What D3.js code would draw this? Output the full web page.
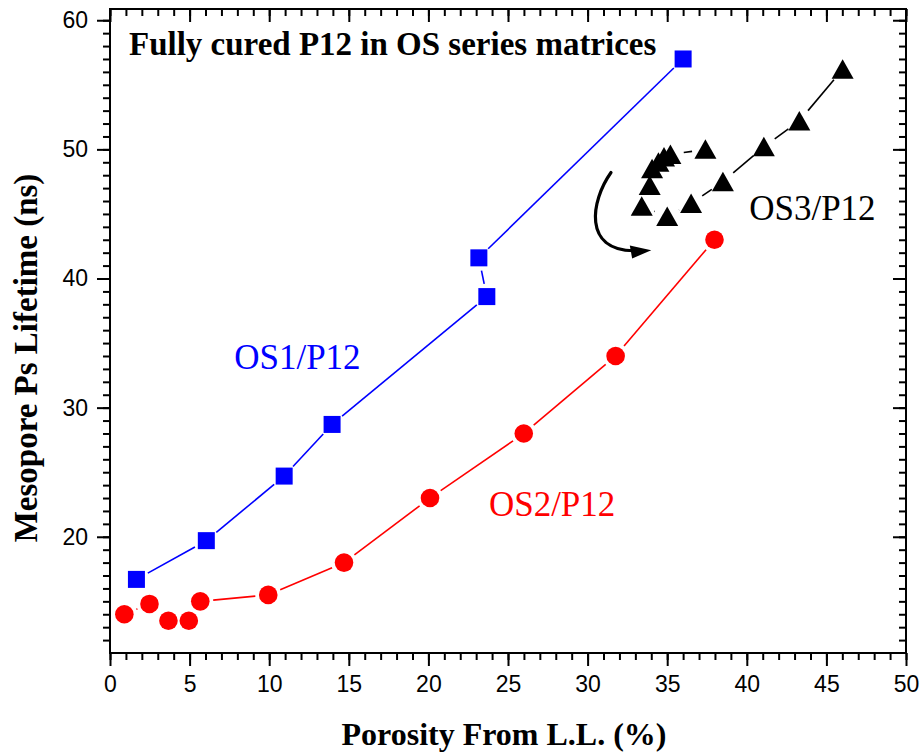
<!DOCTYPE html>
<html>
<head>
<meta charset="utf-8">
<script src="https://cdn.jsdelivr.net/npm/d3@7"></script>
<style>
  html, body { margin: 0; padding: 0; background: #fff; }
  svg { display: block; }
</style>
</head>
<body>
<svg id="chart" width="922" height="753"></svg>
<script>
// Porosity (%) and mesopore Ps lifetime (ns) for each matrix series
const os1Porosity = [1.66, 6.05, 10.94, 13.95, 23.67, 23.17, 36.0];
const os1Lifetime = [16.7, 19.7, 24.7, 28.7, 38.6, 41.6, 57.0];

const os2Porosity = [0.9, 2.48, 3.67, 4.95, 5.67, 9.94, 14.7, 20.1, 25.99, 31.76, 37.97];
const os2Lifetime = [14.0, 14.8, 13.5, 13.5, 15.0, 15.5, 18.0, 23.0, 28.0, 34.0, 43.0];

const os3Porosity = [46.02, 43.3, 41.07, 38.5, 36.5, 35.0, 33.4, 33.9, 34.05, 34.45, 34.8, 35.2, 37.4];
const os3Lifetime = [56.2, 52.2, 50.2, 47.5, 45.8, 44.8, 45.6, 47.2, 48.5, 49.0, 49.4, 49.6, 50.0];

// Axis ticks
const xMajorTicks = [0, 5, 10, 15, 20, 25, 30, 35, 40, 45, 50];
const yMajorTicks = [20, 30, 40, 50, 60];
const xMinorTicks = d3.range(0, 51, 1);
const yMinorTicks = d3.range(12, 61, 1);

// Curved arrow showing the direction of the OS3 loop (data units)
const arrowCurve = [[31.47, 48.21], [30.2, 46.0], [29.7, 42.2], [32.9, 42.15]];
const arrowHead = [[34.0, 42.19], [32.65, 42.55], [32.8, 41.55]];

// Text
const titleText = "Fully cured P12 in OS series matrices";
const xTitle = "Porosity From L.L. (%)";
const yTitle = "Mesopore Ps Lifetime (ns)";
const seriesLabels = [
  { text: "OS1/P12", x: 7.8, y: 33.0, color: "#0000ff" },
  { text: "OS2/P12", x: 23.8, y: 21.6, color: "#ff0000" },
  { text: "OS3/P12", x: 40.15, y: 44.55, color: "#000000" }
];

const serif = "'Liberation Serif', 'Times New Roman', serif";
const sans = "'Liberation Sans', Arial, sans-serif";

const plotLeft = 110, plotRight = 906, plotTop = 9, plotBottom = 653;

const x = d3.scaleLinear().domain([0, 50]).range([plotLeft, plotRight]);
const y = d3.scaleLinear().domain([11, 60.87]).range([plotBottom, plotTop]);

const svg = d3.select("#chart");

// ---- axes ----
function styleAxis(g) {
  g.select(".domain").remove();
  g.selectAll(".tick line").attr("stroke", "#000").attr("stroke-width", 2);
  g.selectAll(".tick text").attr("font-family", sans).attr("font-size", 23).attr("fill", "#000");
}

// bottom: ticks outward
svg.append("g").attr("transform", `translate(0,${plotBottom})`)
  .call(d3.axisBottom(x).tickValues(xMinorTicks).tickSize(7).tickFormat(""))
  .call(styleAxis);
svg.append("g").attr("transform", `translate(0,${plotBottom})`)
  .call(d3.axisBottom(x).tickValues(xMajorTicks).tickSize(13).tickPadding(10).tickFormat(d3.format("d")))
  .call(styleAxis);

// top: ticks inward
svg.append("g").attr("transform", `translate(0,${plotTop})`)
  .call(d3.axisTop(x).tickValues(xMinorTicks).tickSize(-7).tickFormat(""))
  .call(styleAxis);
svg.append("g").attr("transform", `translate(0,${plotTop})`)
  .call(d3.axisTop(x).tickValues(xMajorTicks).tickSize(-13).tickFormat(""))
  .call(styleAxis);

// left: ticks outward
svg.append("g").attr("transform", `translate(${plotLeft},0)`)
  .call(d3.axisLeft(y).tickValues(yMinorTicks).tickSize(7).tickFormat(""))
  .call(styleAxis);
svg.append("g").attr("transform", `translate(${plotLeft},0)`)
  .call(d3.axisLeft(y).tickValues(yMajorTicks).tickSize(13).tickPadding(9).tickFormat(d3.format("d")))
  .call(styleAxis);

// right: ticks inward
svg.append("g").attr("transform", `translate(${plotRight},0)`)
  .call(d3.axisRight(y).tickValues(yMinorTicks).tickSize(-7).tickFormat(""))
  .call(styleAxis);
svg.append("g").attr("transform", `translate(${plotRight},0)`)
  .call(d3.axisRight(y).tickValues(yMajorTicks).tickSize(-13).tickFormat(""))
  .call(styleAxis);

// frame
svg.append("rect")
  .attr("x", plotLeft).attr("y", plotTop)
  .attr("width", plotRight - plotLeft).attr("height", plotBottom - plotTop)
  .attr("fill", "none").attr("stroke", "#000").attr("stroke-width", 2);

// ---- series ----
// connecting lines stop short of each marker
function gappedSegments(xs, ys, gap, color) {
  const g = svg.append("g");
  for (let i = 0; i < xs.length - 1; i++) {
    const x1 = x(xs[i]), y1 = y(ys[i]), x2 = x(xs[i + 1]), y2 = y(ys[i + 1]);
    const dx = x2 - x1, dy = y2 - y1, d = Math.hypot(dx, dy);
    if (d <= 2 * gap) continue;
    const ux = dx / d, uy = dy / d;
    g.append("line")
      .attr("x1", x1 + ux * gap).attr("y1", y1 + uy * gap)
      .attr("x2", x2 - ux * gap).attr("y2", y2 - uy * gap)
      .attr("stroke", color).attr("stroke-width", 1.6);
  }
}

const os1 = os1Porosity.map((p, i) => [p, os1Lifetime[i]]);
const os2 = os2Porosity.map((p, i) => [p, os2Lifetime[i]]);
const os3 = os3Porosity.map((p, i) => [p, os3Lifetime[i]]);

gappedSegments(os1Porosity, os1Lifetime, 13, "#0000ff");
gappedSegments(os2Porosity, os2Lifetime, 13, "#ff0000");
gappedSegments(os3Porosity, os3Lifetime, 13.5, "#000000");

// OS1: squares
svg.append("g").selectAll("rect").data(os1).join("rect")
  .attr("x", d => x(d[0]) - 8.5).attr("y", d => y(d[1]) - 8.5)
  .attr("width", 17).attr("height", 17)
  .attr("fill", "#0000ff");

// OS2: circles
svg.append("g").selectAll("circle").data(os2).join("circle")
  .attr("cx", d => x(d[0])).attr("cy", d => y(d[1]))
  .attr("r", 9.3)
  .attr("fill", "#ff0000");

// OS3: triangles
svg.append("g").selectAll("path").data(os3).join("path")
  .attr("d", d => {
    const cx = x(d[0]), cy = y(d[1]);
    return `M${cx},${cy - 10}L${cx + 11},${cy + 9.5}L${cx - 11},${cy + 9.5}Z`;
  })
  .attr("fill", "#000");

// direction arrow
const ap = arrowCurve.map(p => [x(p[0]), y(p[1])]);
svg.append("path")
  .attr("d", `M${ap[0]}C${ap[1]} ${ap[2]} ${ap[3]}`)
  .attr("fill", "none").attr("stroke", "#000").attr("stroke-width", 3.2)
  .attr("stroke-linecap", "round");
svg.append("path")
  .attr("d", d3.line()(arrowHead.map(p => [x(p[0]), y(p[1])])) + "Z")
  .attr("fill", "#000");

// ---- text ----
svg.append("text")
  .attr("x", plotLeft + 19).attr("y", 55)
  .attr("font-family", serif).attr("font-weight", "bold").attr("font-size", 33)
  .attr("fill", "#000")
  .text(titleText);

svg.append("g").selectAll("text").data(seriesLabels).join("text")
  .attr("x", d => x(d.x)).attr("y", d => y(d.y))
  .attr("font-family", serif).attr("font-size", 35)
  .attr("fill", d => d.color)
  .text(d => d.text);

svg.append("text")
  .attr("x", (plotLeft + plotRight) / 2 - 4).attr("y", 745)
  .attr("text-anchor", "middle")
  .attr("font-family", serif).attr("font-weight", "bold").attr("font-size", 32)
  .attr("fill", "#000")
  .text(xTitle);

svg.append("text")
  .attr("transform", `translate(37,${(plotTop + plotBottom) / 2 + 27}) rotate(-90)`)
  .attr("text-anchor", "middle")
  .attr("font-family", serif).attr("font-weight", "bold").attr("font-size", 33)
  .attr("fill", "#000")
  .text(yTitle);
</script>
</body>
</html>
